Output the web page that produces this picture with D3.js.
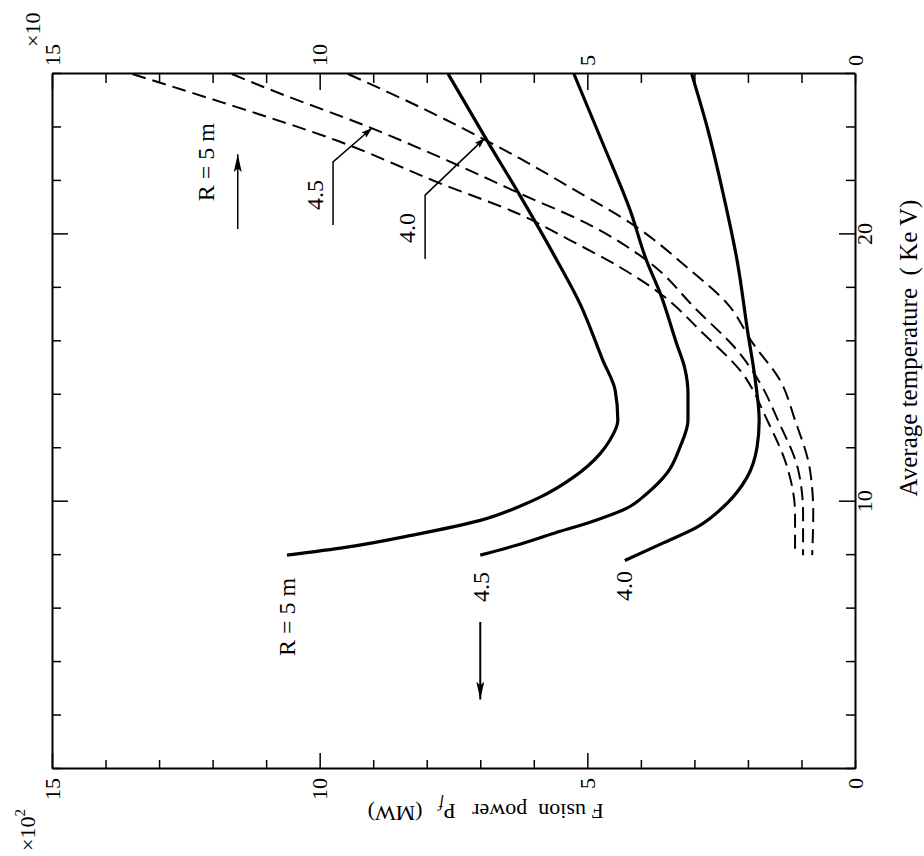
<!DOCTYPE html>
<html lang="en">
<head>
<meta charset="UTF-8" />
<title>Fusion power vs average temperature</title>
<script src="https://cdn.jsdelivr.net/npm/d3@7"></script>
<style>
  body { margin: 0; background: #fff; }
  text { font-family: "Liberation Serif", "Times New Roman", serif; fill: #000; }
</style>
</head>
<body>
<div id="chart"></div>
<script>
// [temperature keV, fusion power x10^2 MW] - solid curves
const solidR50 = [[26.0,7.60],[23.5,6.87],[21.46,6.26],[19.29,5.64],[17.42,5.14],[15.29,4.71],[14.17,4.48],[13.05,4.43],[12.3,4.58],[11.8,4.76],[10.9,5.27],[10.17,5.88],[9.83,6.26],[9.3,7.0],[8.75,8.26],[8.3,9.49],[8.0,10.61]];
const solidR45 = [[26.0,5.25],[23.4,4.71],[20.9,4.20],[19.0,3.89],[17.8,3.64],[15.9,3.33],[15.0,3.18],[14.06,3.12],[13.05,3.12],[12.04,3.27],[11.07,3.51],[10.3,3.89],[9.76,4.26],[9.23,4.95],[8.82,5.62],[8.41,6.26],[8.0,7.0]];
const solidR40 = [[26.0,3.05],[24.0,2.76],[21.5,2.46],[19.0,2.20],[16.3,2.00],[14.65,1.87],[13.05,1.79],[12.04,1.83],[10.9,2.02],[9.94,2.39],[9.05,2.95],[8.45,3.59],[7.8,4.30]];

// [temperature keV, value on the x10 axis] - dashed curves
const dashR50 = [[26.0,13.5],[25.4,12.55],[24.93,11.81],[23.51,9.68],[21.91,7.75],[20.79,6.31],[19.78,5.32],[18.77,4.39],[17.79,3.64],[16.3,2.84],[14.92,2.15],[13.05,1.64],[11.18,1.25],[9.57,1.12],[8.19,1.12]];
const dashR45 = [[26.0,11.64],[25.27,10.74],[24.15,9.25],[22.77,7.62],[21.53,6.26],[20.41,5.01],[19.03,3.89],[17.16,2.95],[15.66,2.20],[14.43,1.77],[13.05,1.44],[11.18,1.06],[9.57,0.97],[8.0,0.97]];
const dashR40 = [[26.0,9.47],[24.64,8.0],[23.63,7.0],[22.84,6.26],[21.76,5.32],[20.26,4.07],[18.77,3.14],[17.42,2.39],[15.93,1.91],[14.54,1.40],[13.05,1.12],[11.18,0.84],[9.57,0.78],[8.0,0.80]];

// ticks
const tempTicks = [0,2,4,6,8,10,12,14,16,18,20,22,24,26];
const tempLabels = [10, 20];
const powerTicks = [0,1,2,3,4,5,6,7,8,9,10,11,12,13,14,15];
const powerLabels = [0, 5, 10, 15];

// chart is drawn upright, then turned a quarter turn to the left like the scan
const W = 695, H = 803;
const x = d3.scaleLinear().domain([0, 26]).range([0, W]);
const y = d3.scaleLinear().domain([0, 15]).range([H, 0]);

const svg = d3.select("#chart").append("svg")
    .attr("width", 924)
    .attr("height", 856);
svg.append("rect").attr("width", 924).attr("height", 856).attr("fill", "#fff");

const defs = svg.append("defs");
defs.append("marker").attr("id", "bigArrow")
    .attr("viewBox", "0 0 18 8").attr("refX", 18).attr("refY", 4)
    .attr("markerWidth", 18).attr("markerHeight", 8)
    .attr("markerUnits", "userSpaceOnUse").attr("orient", "auto")
    .append("path").attr("d", "M0,0L18,4L0,8L4,4z").attr("fill", "#000");
defs.append("marker").attr("id", "smallArrow")
    .attr("viewBox", "0 0 11 7").attr("refX", 11).attr("refY", 3.5)
    .attr("markerWidth", 11).attr("markerHeight", 7)
    .attr("markerUnits", "userSpaceOnUse").attr("orient", "auto")
    .append("path").attr("d", "M0,0L11,3.5L0,7L2,3.5z").attr("fill", "#000");

const g = svg.append("g").attr("transform", "translate(52,769) rotate(-90)");

// axes, ticks pointing inward
const axB = g.append("g").attr("transform", `translate(0,${H})`)
    .call(d3.axisBottom(x).tickValues(tempTicks).tickSizeInner(-9).tickSizeOuter(0).tickPadding(1)
        .tickFormat(d => tempLabels.includes(d) ? d : ""));
axB.selectAll(".tick line").attr("y2", d => tempLabels.includes(d) ? -16 : -9);

const axT = g.append("g")
    .call(d3.axisTop(x).tickValues(tempTicks).tickSizeInner(-9).tickSizeOuter(0).tickFormat(""));
axT.selectAll(".tick line").attr("y2", d => tempLabels.includes(d) ? 16 : 9);

const axL = g.append("g")
    .call(d3.axisLeft(y).tickValues(powerTicks).tickSizeInner(-9).tickSizeOuter(0).tickPadding(9)
        .tickFormat(d => powerLabels.includes(d) ? d : ""));
axL.selectAll(".tick line").attr("x2", d => powerLabels.includes(d) && d > 0 ? 16 : 9);

const axR = g.append("g").attr("transform", `translate(${W},0)`)
    .call(d3.axisRight(y).tickValues(powerTicks).tickSizeInner(-9).tickSizeOuter(0).tickPadding(8)
        .tickFormat(d => powerLabels.includes(d) ? d : ""));
axR.selectAll(".tick line").attr("x2", d => powerLabels.includes(d) && d > 0 ? -16 : -9);

g.selectAll(".domain").attr("stroke", "#000").attr("stroke-width", 2);
g.selectAll(".tick line").attr("stroke", "#000").attr("stroke-width", 1.5);
g.selectAll(".tick text").attr("font-size", 22);

// curves (temperature falls steadily along each list)
const line = d3.line().x(d => x(d[0])).y(d => y(d[1])).curve(d3.curveMonotoneX);

[solidR50, solidR45, solidR40].forEach(c => {
    g.append("path").datum(c).attr("d", line)
        .attr("fill", "none").attr("stroke", "#000").attr("stroke-width", 3.2);
});
[dashR50, dashR45, dashR40].forEach(c => {
    g.append("path").datum(c).attr("d", line)
        .attr("fill", "none").attr("stroke", "#000").attr("stroke-width", 2)
        .attr("stroke-dasharray", "14,7");
});

// labels on curves
function label(txt, t, p) {
    g.append("text").attr("x", x(t)).attr("y", y(p)).attr("dy", "0.35em")
        .attr("text-anchor", "middle").attr("font-size", 24)
        .style("white-space", "pre").text(txt);
}
label("R = 5 m", 5.69, 10.61);
label("4.5", 6.81, 7.0);
label("4.0", 6.85, 4.33);
label("R = 5 m", 22.7, 12.14);
label("4.5", 21.47, 10.09);
label("4.0", 20.24, 8.37);

const leader = d3.line().x(d => x(d[0])).y(d => y(d[1]));
function arrow(pts, marker, w) {
    g.append("path").attr("d", leader(pts)).attr("fill", "none")
        .attr("stroke", "#000").attr("stroke-width", w)
        .attr("marker-end", `url(#${marker})`);
}
arrow([[5.5, 7.0], [2.6, 7.0]], "bigArrow", 2);
arrow([[20.2, 11.53], [23.0, 11.53]], "bigArrow", 1.5);
arrow([[20.35, 9.75], [22.71, 9.75], [23.98, 9.02]], "smallArrow", 1.5);
arrow([[19.08, 8.03], [21.47, 8.03], [23.61, 6.91]], "smallArrow", 1.5);

// axis titles
g.append("text").attr("x", 421).attr("y", H + 62)
    .attr("text-anchor", "middle").attr("font-size", 25)
    .style("white-space", "pre")
    .text("Average temperature  ( Ke V)");

const yt = g.append("text").attr("transform", `translate(-35,${y(6.9)}) rotate(-90)`)
    .attr("text-anchor", "middle").attr("font-size", 22)
    .style("white-space", "pre");
yt.append("tspan").text("F usion  power   P");
yt.append("tspan").attr("dy", "0.3em").attr("font-size", 16).attr("font-style", "italic").text("f");
yt.append("tspan").attr("dy", "-0.3em").text("   (MW)");

// scale multipliers
const m1 = g.append("text").attr("x", -40).attr("y", -17)
    .attr("text-anchor", "end").attr("font-size", 22);
m1.append("tspan").text("×10");
m1.append("tspan").attr("dy", -10).attr("font-size", 15).text("2");

g.append("text").attr("x", W + 27).attr("y", -12)
    .attr("text-anchor", "start").attr("font-size", 22)
    .text("×10");
</script>
</body>
</html>
